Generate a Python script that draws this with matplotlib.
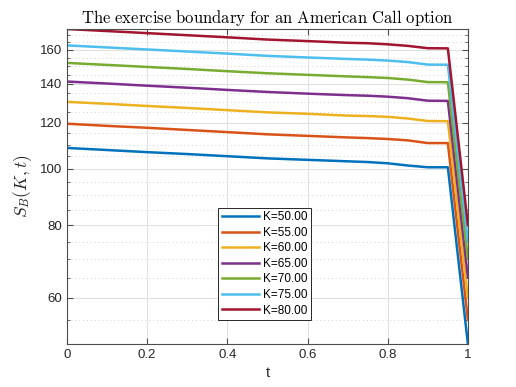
import matplotlib
matplotlib.use("Agg")
import matplotlib.pyplot as plt
from matplotlib.ticker import FixedLocator, MultipleLocator, NullFormatter

plt.rcParams["font.family"] = ["Liberation Sans", "DejaVu Sans"]
plt.rcParams["mathtext.fontset"] = "cm"

# time grid and boundary values
t = [0.0, 0.1, 0.2, 0.3, 0.4, 0.5, 0.6, 0.7, 0.75, 0.8, 0.85, 0.9, 0.95, 1.0]
strikes = [50, 55, 60, 65, 70, 75, 80]

sb_50 = [108.6, 107.7, 106.8, 106.0, 105.1, 104.2, 103.6, 103.0, 102.7, 102.2, 101.3, 100.6, 100.6, 50.0]
sb_55 = [119.5, 118.5, 117.6, 116.6, 115.6, 114.6, 113.9, 113.2, 112.9, 112.5, 111.9, 110.7, 110.7, 55.0]
sb_60 = [130.3, 129.3, 128.2, 127.2, 126.1, 125.0, 124.3, 123.4, 123.2, 122.8, 122.0, 120.8, 120.7, 60.0]
sb_65 = [141.2, 140.1, 138.9, 137.8, 136.6, 135.5, 134.6, 133.8, 133.5, 133.0, 132.2, 130.9, 130.8, 65.0]
sb_70 = [152.0, 150.8, 149.6, 148.4, 147.1, 145.9, 145.0, 144.1, 143.7, 143.2, 142.3, 140.9, 140.8, 70.0]
sb_75 = [162.9, 161.6, 160.3, 159.0, 157.7, 156.3, 155.3, 154.4, 154.0, 153.4, 152.5, 151.0, 150.9, 75.0]
sb_80 = [173.8, 172.4, 171.0, 169.6, 168.2, 166.7, 165.7, 164.6, 164.3, 163.6, 162.6, 161.1, 161.0, 80.0]
series = [sb_50, sb_55, sb_60, sb_65, sb_70, sb_75, sb_80]

colors = ["#0072BD", "#D95319", "#EDB120", "#7E2F8E", "#77AC30", "#4DBEEE", "#A2142F"]

fig = plt.figure(figsize=(5.16, 3.87), dpi=100)
ax = fig.add_axes([0.1298, 0.111, 0.777, 0.814])

for k, s, c in zip(strikes, series, colors):
    ax.plot(t, s, color=c, lw=1.8, label="K={:.2f}".format(k))

ax.set_yscale("log")
ax.set_xlim(0, 1)
ymin = min(min(s) for s in series)
ymax = max(max(s) for s in series)
ax.set_ylim(ymin, ymax)

ax.yaxis.set_major_locator(FixedLocator([60, 80, 100, 120, 140, 160]))
ax.yaxis.set_major_formatter(plt.FuncFormatter(lambda v, p: "{:g}".format(v)))
ax.yaxis.set_minor_locator(MultipleLocator(5))
ax.yaxis.set_minor_formatter(NullFormatter())
ax.set_xticks([0, 0.2, 0.4, 0.6, 0.8, 1])
ax.set_xticklabels(["0", "0.2", "0.4", "0.6", "0.8", "1"])

ax.grid(True, which="major", color="#e0e0e0", lw=0.7, ls="-")
ax.grid(True, which="minor", axis="y", color="#d4d4d4", lw=0.7, ls=(0, (1, 3)))
ax.set_axisbelow(True)

for sp in ax.spines.values():
    sp.set_color("#4d4d4d")
    sp.set_linewidth(0.8)
ax.tick_params(which="both", direction="in", top=True, right=True, colors="#4d4d4d",
               labelcolor="#262626", labelsize=9.5)
ax.tick_params(which="major", length=4)
ax.tick_params(which="minor", length=2)

ax.set_title(r"$\mathrm{The\ exercise\ boundary\ for\ an\ American\ Call\ option}$",
             fontsize=12, pad=4)
ax.set_xlabel("t", fontsize=10.5, color="#262626")
ax.set_ylabel(r"$S_B(K,t)$", fontsize=12.5, color="#262626")

leg = ax.legend(loc="lower left", bbox_to_anchor=(0.377, 0.076), fontsize=8.5,
                frameon=True, fancybox=False, edgecolor="#262626", framealpha=1,
                handlelength=3.2, handletextpad=0.3, labelspacing=0.3,
                borderpad=0.3, borderaxespad=0)
leg.get_frame().set_linewidth(0.7)

fig.savefig("out.png", dpi=100)
